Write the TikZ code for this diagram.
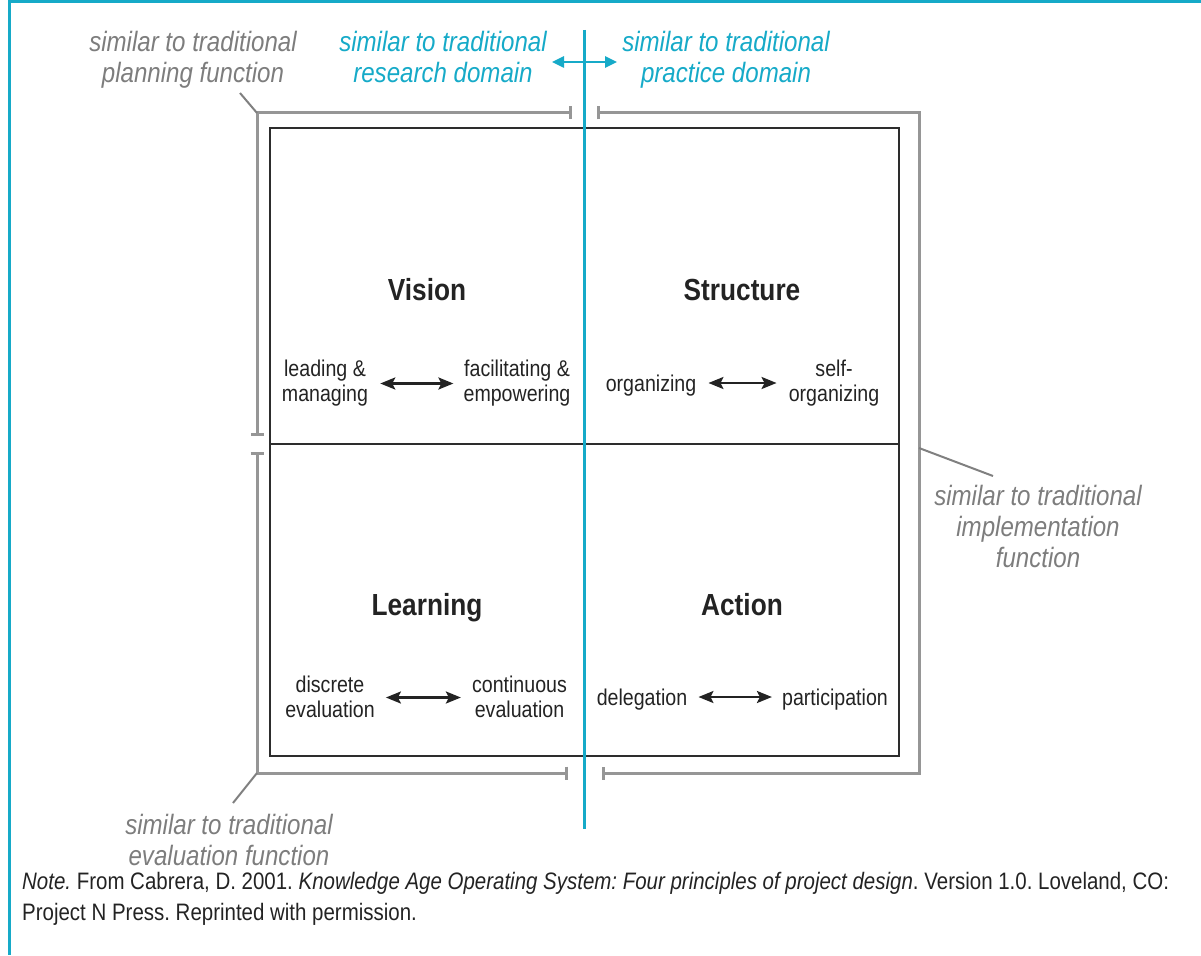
\documentclass[tikz,border=0pt]{standalone}
\usepackage{fontspec}
\setmainfont{Liberation Sans}[FakeStretch=0.86]
\usetikzlibrary{arrows.meta,calc}
\definecolor{cy}{RGB}{22,170,200}
\definecolor{gtext}{RGB}{125,125,125}
\definecolor{gline}{RGB}{150,150,150}
\definecolor{boxc}{RGB}{45,45,45}
\definecolor{ink}{RGB}{35,35,35}
\frenchspacing
\begin{document}
\begin{tikzpicture}[x=1pt,y=-1pt,
  note/.style={font=\fontsize{28}{31}\selectfont\itshape, text=gtext, align=center, inner sep=0pt},
  cnote/.style={note, text=cy},
  qtitle/.style={font=\fontsize{30.5}{34}\selectfont\bfseries, text=ink, inner sep=0pt},
  lab/.style={font=\fontsize{22.8}{25}\selectfont, text=ink, align=center, inner sep=0pt},
  bracket/.style={draw=gline, line width=3pt, {Bar[width=13pt]}-{Bar[width=13pt]}},
  leader/.style={draw=gline!85!black, line width=2pt},
  barrow/.style={draw=ink, line width=2.5pt, {Stealth[length=15pt,width=12pt,inset=3pt]}-{Stealth[length=15pt,width=12pt,inset=3pt]}},
  carrow/.style={draw=cy, line width=2.5pt, {Triangle[length=12pt,width=11pt]}-{Triangle[length=12pt,width=11pt]}},
  frame/.style={draw=cy, line width=3pt}
]
\useasboundingbox (0,0) rectangle (1201,955);

% outer frame (top and left edges)
\draw[frame] (8,2) -- (1201,2);
\draw[frame] (9.5,0) -- (9.5,955);

% named coordinates
\coordinate (tl) at (270,128);
\coordinate (br) at (899,756);
\coordinate (ml) at (270,444);
\coordinate (mr) at (899,444);
\coordinate (ctop) at (584,30);
\coordinate (cbot) at (584,829);

% gray brackets
\coordinate (pA) at (257,436);
\coordinate (pC) at (257,113);
\coordinate (pB) at (572,113);
\coordinate (eA) at (257,452);
\coordinate (eC) at (257,773);
\coordinate (eB) at (568,773);
\coordinate (iA) at (597,113);
\coordinate (iC1) at (919,113);
\coordinate (iC2) at (919,773);
\coordinate (iB) at (602,773);
\draw[bracket] (pA) -- (pC) -- (pB);
\draw[bracket] (eA) -- (eC) -- (eB);
\draw[bracket] (iA) -- (iC1) -- (iC2) -- (iB);

% inner box
\draw[draw=boxc, line width=2.5pt] (tl) rectangle (br);
\draw[draw=boxc, line width=2.5pt] (ml) -- (mr);

% cyan divider
\draw[draw=cy, line width=3pt] (ctop) -- (cbot);

% top labels
\node[note] (plan) at (193,61) {\strut similar to traditional\\planning function\strut};
\node[cnote] (research) at (443,61) {\strut similar to traditional\\research domain\strut};
\node[cnote] (practice) at (726,61) {\strut similar to traditional\\practice domain\strut};
\coordinate (caL) at (552,62);
\coordinate (caR) at (617,62);
\draw[carrow] (caL) -- (caR);

\node[note] (impl) at (1038,530) {\strut similar to traditional\\implementation\\function\strut};
\node[note] (eval) at (229,843.5) {\strut similar to traditional\\evaluation function\strut};

% leaders
\coordinate (planL) at (240,93);
\coordinate (implL) at (993,476);
\coordinate (evalL) at (233,803);
\coordinate (implP) at (919,448);
\draw[leader] (planL) -- (pC);
\draw[leader] (implP) -- (implL);
\draw[leader] (eC) -- (evalL);

% quadrant titles
\node[qtitle] (vision) at (427,294) {\strut Vision};
\node[qtitle] (structure) at (742,294) {\strut Structure};
\node[qtitle] (learning) at (427,609) {\strut Learning};
\node[qtitle] (action) at (742,609) {\strut Action};

% quadrant labels
\node[lab] (lead) at (325,383.5) {\strut leading \&\\managing\strut};
\node[lab] (facil) at (517,383.5) {\strut facilitating \&\\empowering\strut};
\draw[barrow] ($(lead.east)+(12,0)$) -- ($(lead.east -| facil.west)+(-10,0)$);

\node[lab] (org) at (651,386) {\strut organizing};
\node[lab] (self) at (834,383.5) {\strut self-\\organizing\strut};
\draw[barrow] ($(org.east)+(12,-3)$) -- ($(org.east -| self.west)+(-12,-3)$);

\node[lab] (disc) at (330,699.5) {\strut discrete\\evaluation\strut};
\node[lab] (cont) at (519.5,699.5) {\strut continuous\\evaluation\strut};
\draw[barrow] ($(disc.east)+(11,-2)$) -- ($(disc.east -| cont.west)+(-11,-2)$);

\node[lab] (deleg) at (642,700) {\strut delegation};
\node[lab] (partic) at (835,700) {\strut participation};
\draw[barrow] ($(deleg.east)+(11,-3)$) -- ($(deleg.east -| partic.west)+(-10,-3)$);

% note
\node[font=\fontsize{23.8}{31}\selectfont, text=ink, align=left, inner sep=0pt, anchor=north west] (src) at (22,868)
  {\strut\textit{Note.} From Cabrera, D. 2001. \textit{Knowledge Age Operating System: Four principles of project design}. Version 1.0. Loveland, CO:\\
   Project N Press. Reprinted with permission.\strut};
\end{tikzpicture}
\end{document}
